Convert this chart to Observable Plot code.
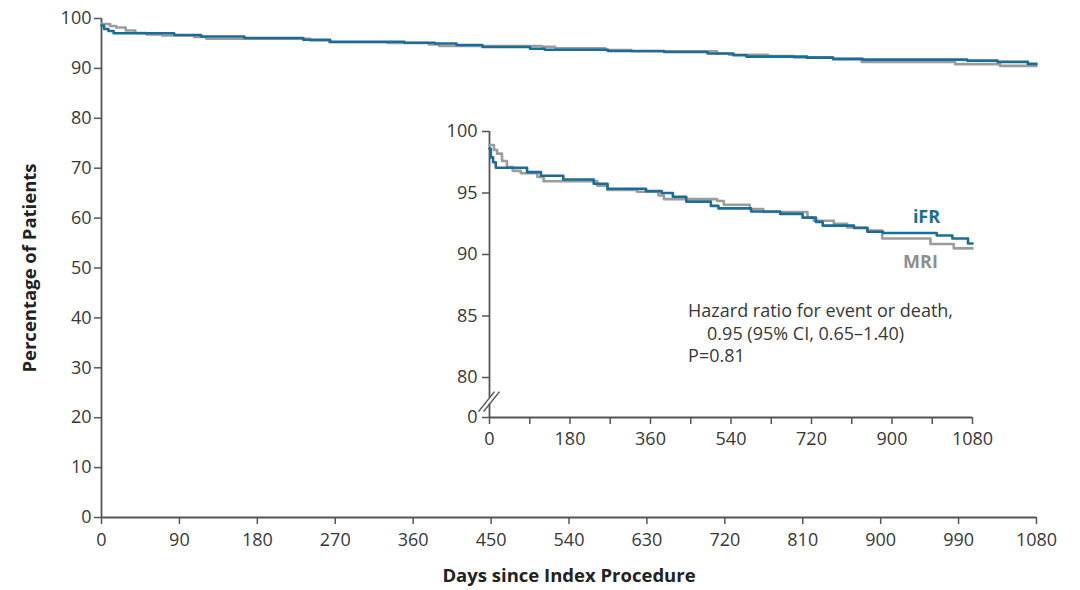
<!DOCTYPE html>
<html>
<head>
<meta charset="utf-8">
<script src="https://cdn.jsdelivr.net/npm/d3@7"></script>
<script src="https://cdn.jsdelivr.net/npm/@observablehq/plot@0.6"></script>
<style>
  html, body { margin: 0; padding: 0; background: white; }
  #wrap { position: relative; width: 1080px; height: 590px; }
  #wrap svg.main { position: absolute; left: 0; top: 0; }
  #wrap svg.inset { position: absolute; left: 430px; top: 110px; }
</style>
</head>
<body>
<div id="wrap"></div>
<script>
// ---- Data ----
const ifrDays = [0, 3, 8, 14, 84, 115, 165, 233, 264, 350, 385, 410, 440, 495, 512, 585, 650, 700, 730, 745, 815, 845, 880, 1000, 1035, 1070, 1080];
const ifrPct  = [98.6, 97.9, 97.5, 97.05, 96.7, 96.4, 96.1, 95.75, 95.35, 95.15, 95.0, 94.7, 94.3, 93.95, 93.75, 93.5, 93.3, 93.0, 92.65, 92.35, 92.15, 91.85, 91.75, 91.55, 91.3, 90.9, 90.9];
const mriDays = [0, 10, 17, 28, 39, 52, 70, 107, 121, 241, 263, 330, 378, 390, 509, 524, 582, 612, 711, 725, 770, 800, 845, 878, 986, 1038, 1080];
const mriPct  = [98.9, 98.5, 98.2, 97.6, 97.1, 96.8, 96.6, 96.3, 95.95, 95.6, 95.25, 95.1, 94.8, 94.5, 94.35, 94.05, 93.7, 93.45, 93.0, 92.75, 92.5, 92.2, 91.95, 91.3, 90.85, 90.5, 90.5];

const mainXTicks = [0, 90, 180, 270, 360, 450, 540, 630, 720, 810, 900, 990, 1080];
const mainYTicks = [0, 10, 20, 30, 40, 50, 60, 70, 80, 90, 100];
const insetXTicks = [0, 90, 180, 270, 360, 450, 540, 630, 720, 810, 900, 990, 1080];
const insetXLabels = [0, 180, 360, 540, 720, 900, 1080];
const insetYTicks = [0, 80, 85, 90, 95, 100];
const insetBreak = 78;

const seriesNames = ["iFR", "MRI"];
const seriesColors = ["#1b6d97", "#9c9c9c"];

const xTitle = "Days since Index Procedure";
const yTitle = "Percentage of Patients";
const hazardLines = ["Hazard ratio for event or death,", "0.95 (95% CI, 0.65\u20131.40)", "P=0.81"];
const hazardAnchor = [{day: 444, pct: 85.4}];

// tables built from arrays
const ifr = ifrDays.map((d, i) => ({day: d, pct: ifrPct[i]}));
const mri = mriDays.map((d, i) => ({day: d, pct: mriPct[i]}));

const textColor = "#383838";
const axisColor = "#555";
const font = "'Open Sans', 'Noto Sans', sans-serif";

// ---- Main chart ----
const main = Plot.plot({
  className: "main",
  width: 1080,
  height: 590,
  marginLeft: 101,
  marginRight: 44,
  marginTop: 18,
  marginBottom: 73,
  x: {domain: [0, 1080]},
  y: {domain: [0, 100]},
  style: {fontFamily: font, fontSize: "18px", color: textColor, background: "white"},
  marks: [
    Plot.axisX({ticks: mainXTicks, tickFormat: d => String(d), tickSize: 7, tickPadding: 9, label: null, stroke: axisColor, strokeWidth: 1.5}),
    Plot.axisY({ticks: mainYTicks, tickFormat: d => String(d), tickSize: 7, tickPadding: 3, label: null, stroke: axisColor, strokeWidth: 1.5}),
    Plot.ruleX([0], {stroke: axisColor, strokeWidth: 1.8}),
    Plot.ruleY([0], {stroke: axisColor, strokeWidth: 1.8}),
    Plot.line(mri, {x: "day", y: "pct", curve: "step-after", stroke: seriesColors[1], strokeWidth: 2.6}),
    Plot.line(ifr, {x: "day", y: "pct", curve: "step-after", stroke: seriesColors[0], strokeWidth: 2.6}),
    Plot.text([xTitle], {frameAnchor: "bottom", dy: 64, fontWeight: "bold", fontSize: 18.5, fill: "#222"}),
    Plot.text([yTitle], {frameAnchor: "left", dx: -71, rotate: -90, textAnchor: "middle", fontWeight: "bold", fontSize: 18.5, fill: "#222"})
  ]
});

// ---- Inset chart ----
function axisBreak(index, {x, y}) {
  const cx = x(0), cy = y(insetBreak);
  const g = d3.create("svg:g").attr("stroke", axisColor).attr("stroke-width", 1.5).attr("fill", "none");
  g.append("rect").attr("x", cx - 3).attr("y", cy - 4).attr("width", 6).attr("height", 6).attr("fill", "white").attr("stroke", "none");
  for (const o of [-2.5, 2.5]) {
    g.append("line").attr("x1", cx - 8 + o).attr("y1", cy + 10).attr("x2", cx + 8 + o).attr("y2", cy - 10);
  }
  return g.node();
}

const inset = Plot.plot({
  className: "inset",
  width: 580,
  height: 370,
  marginLeft: 59,
  marginRight: 38,
  marginTop: 21,
  marginBottom: 63,
  x: {domain: [0, 1080], range: [59, 542]},
  y: {type: "linear", domain: [0, insetBreak, 100], range: [307, 291.6, 21]},
  style: {fontFamily: font, fontSize: "18px", color: textColor, background: "transparent", overflow: "visible"},
  marks: [
    Plot.axisX({ticks: insetXTicks, tickFormat: d => insetXLabels.includes(d) ? String(d) : "", tickSize: 7, tickPadding: 8, label: null, stroke: axisColor, strokeWidth: 1.5}),
    Plot.axisY({ticks: insetYTicks, tickFormat: d => String(d), tickSize: 7, tickPadding: 5, label: null, stroke: axisColor, strokeWidth: 1.5}),
    Plot.ruleX([0], {y1: 0, y2: 100, stroke: axisColor, strokeWidth: 1.8}),
    Plot.ruleY([0], {x1: 0, x2: 1080, stroke: axisColor, strokeWidth: 1.8}),
    axisBreak,
    Plot.line(mri, {x: "day", y: "pct", curve: "step-after", stroke: seriesColors[1], strokeWidth: 2.6}),
    Plot.line(ifr, {x: "day", y: "pct", curve: "step-after", stroke: seriesColors[0], strokeWidth: 2.6}),
    Plot.text([ifr[ifr.length - 1]], {x: "day", y: "pct", text: () => seriesNames[0], dx: -46, dy: -26, fill: seriesColors[0], fontWeight: "bold", fontSize: 18}),
    Plot.text([mri[mri.length - 1]], {x: "day", y: "pct", text: () => seriesNames[1], dx: -52, dy: 14, fill: "#8e8e8e", fontWeight: "bold", fontSize: 18}),
    Plot.text(hazardAnchor, {x: "day", y: "pct", text: () => hazardLines[0], textAnchor: "start", fontSize: 18, fill: textColor}),
    Plot.text(hazardAnchor, {x: "day", y: "pct", text: () => hazardLines[1], textAnchor: "start", dx: 19, dy: 23, fontSize: 18, fill: textColor}),
    Plot.text(hazardAnchor, {x: "day", y: "pct", text: () => hazardLines[2], textAnchor: "start", dy: 45, fontSize: 18, fill: textColor})
  ]
});

const wrap = document.getElementById("wrap");
wrap.appendChild(main);
wrap.appendChild(inset);
</script>
</body>
</html>
